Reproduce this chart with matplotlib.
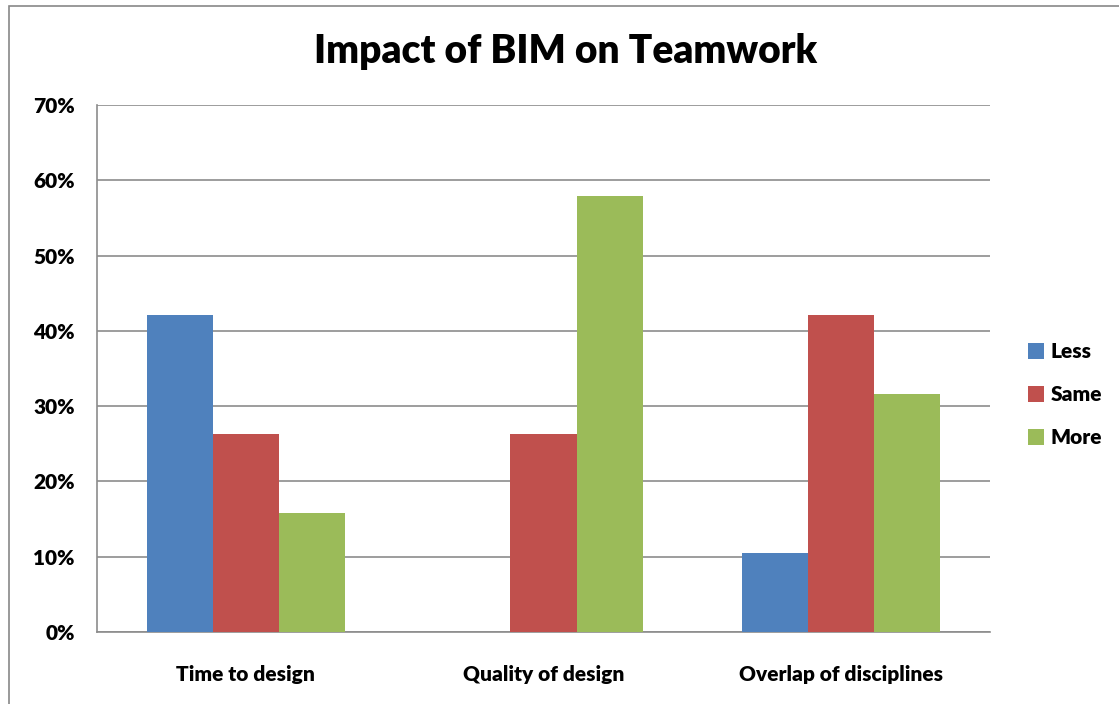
import matplotlib.pyplot as plt
import numpy as np
from matplotlib.patches import Rectangle

plt.rcParams['font.family'] = ['Lato', 'DejaVu Sans']
plt.rcParams['font.weight'] = 'bold'

categories = ['Time to design', 'Quality of design', 'Overlap of disciplines']
series = ['Less', 'Same', 'More']
less = [42.1, 0.0, 10.5]
same = [26.3, 26.3, 42.1]
more = [15.8, 57.9, 31.6]
colors = ['#4F81BD', '#C0504D', '#9BBB59']

fig = plt.figure(figsize=(11.19, 7.04), dpi=100)
# chart border
fig.patches.append(Rectangle((9 / 1119, -0.1), 1.2, 1.1 - 6 / 704, transform=fig.transFigure,
                             fill=False, edgecolor='#888888', linewidth=1.2))

ax = fig.add_axes([97 / 1119, 1 - 632 / 704, 893 / 1119, 527 / 704])

x = np.arange(len(categories))
w = 1 / 4.5  # excel gap width 150%
for i, (vals, name) in enumerate(zip([less, same, more], series)):
    ax.bar(x + (i - 1) * w, vals, w, color=colors[i], label=name, zorder=3)

ax.set_xlim(-0.5, 2.5)
ax.set_ylim(0, 70)
ax.set_yticks(np.arange(0, 71, 10))
ax.set_yticklabels(['%d%%' % v for v in range(0, 71, 10)], fontsize=15, fontweight='heavy')
ax.set_xticks(x)
ax.set_xticklabels(categories, fontsize=15, fontweight='heavy')
ax.tick_params(axis='y', length=0, pad=16)
ax.tick_params(axis='x', length=0, pad=24)
ax.yaxis.grid(True, color='#8c8c8c', linewidth=1.2, zorder=0)
ax.set_axisbelow(True)
ax.spines['top'].set_visible(False)
ax.spines['right'].set_visible(False)
ax.spines['left'].set_color('#8c8c8c')
ax.spines['bottom'].set_color('#8c8c8c')
ax.spines['left'].set_linewidth(1.2)
ax.spines['bottom'].set_linewidth(1.2)

fig.text(566 / 1119, 1 - 52 / 704, 'Impact of BIM on Teamwork', ha='center', va='center',
         fontsize=28, fontweight='heavy')

leg = ax.legend(loc='center left', bbox_to_anchor=(1.022, 0.45), frameon=False,
                prop={'size': 15, 'weight': 'heavy'},
                handlelength=0.75, handleheight=0.75, handletextpad=0.3, labelspacing=1.15)

fig.savefig('out.png', dpi=100)
